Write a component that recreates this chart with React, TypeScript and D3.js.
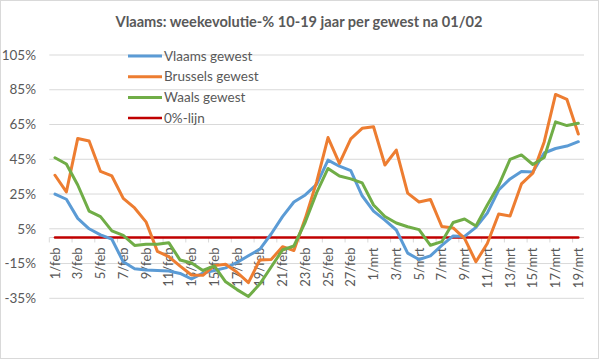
import React from 'react';
import * as d3 from 'd3';

const title = 'Vlaams: weekevolutie-% 10-19 jaar per gewest na 01/02';

const categories = [
  '1/feb', '2/feb', '3/feb', '4/feb', '5/feb', '6/feb', '7/feb', '8/feb', '9/feb', '10/feb',
  '11/feb', '12/feb', '13/feb', '14/feb', '15/feb', '16/feb', '17/feb', '18/feb', '19/feb', '20/feb',
  '21/feb', '22/feb', '23/feb', '24/feb', '25/feb', '26/feb', '27/feb', '28/feb',
  '1/mrt', '2/mrt', '3/mrt', '4/mrt', '5/mrt', '6/mrt', '7/mrt', '8/mrt', '9/mrt', '10/mrt',
  '11/mrt', '12/mrt', '13/mrt', '14/mrt', '15/mrt', '16/mrt', '17/mrt', '18/mrt', '19/mrt',
];

const tickLabels = [
  '1/feb', '3/feb', '5/feb', '7/feb', '9/feb', '11/feb', '13/feb', '15/feb', '17/feb', '19/feb',
  '21/feb', '23/feb', '25/feb', '27/feb', '1/mrt', '3/mrt', '5/mrt', '7/mrt', '9/mrt', '11/mrt',
  '13/mrt', '15/mrt', '17/mrt', '19/mrt',
];

const yTicks = [-35, -15, 5, 25, 45, 65, 85, 105];

const vlaams = [
  25, 22, 11, 5, 1.5, -1, -14, -18, -18.7, -19,
  -19.3, -20.7, -23.9, -20.5, -19, -17.5, -14.4, -10.5, -6.8, 2,
  12, 20.4, 24.5, 30.5, 44.5, 41, 38.5, 24,
  15.2, 10, 4.3, -9, -12.7, -10.6, -4.6, 0.9, 0.6, 5.8,
  14, 27.3, 33.7, 38, 37.7, 48.6, 51.2, 52.6, 55.1,
];

const brussels = [
  35.8, 26.2, 57, 55.5, 38, 35.4, 22.5, 17, 9, -8,
  -11, -16.5, -21.6, -21.8, -16.2, -15.4, -20, -26, -13, -12.7,
  -5.3, -7.5, 11, 32, 57.5, 42.6, 56.7, 62.8,
  63.7, 41.7, 50.3, 25.5, 20.4, 21.9, 6.3, 5.5, -0.5, -14,
  -3.5, 13.5, 12.4, 30.8, 37, 55, 82.3, 79.4, 59.5,
];

const waals = [
  45.9, 42.3, 30.2, 15.2, 12, 3.8, 1.2, -4.6, -3.9, -3.9,
  -3, -13, -14.7, -19, -16.4, -25.5, -30, -34, -26.8, -17,
  -7.2, -4.9, 8.9, 25.8, 39.7, 35.4, 33.7, 31.4,
  18.7, 12.1, 8.3, 6.2, 4.5, -4.5, -2.4, 8.6, 10.6, 6.6,
  18.7, 30, 44.9, 47.5, 42, 46, 66.5, 64.4, 65.7,
];

const nulLijn = [
  0, 0, 0, 0, 0, 0, 0, 0, 0, 0,
  0, 0, 0, 0, 0, 0, 0, 0, 0, 0,
  0, 0, 0, 0, 0, 0, 0, 0,
  0, 0, 0, 0, 0, 0, 0, 0, 0, 0,
  0, 0, 0, 0, 0, 0, 0, 0, 0,
];

const seriesNames = ['Vlaams gewest', 'Brussels gewest', 'Waals gewest', '0%-lijn'];
const seriesColors = ['#5B9BD5', '#ED7D31', '#70AD47', '#C00000'];

const W = 599;
const H = 359;
const FONT = 'Lato, "Open Sans", sans-serif';
const TEXT = '#595959';

export default function App() {
  const x = d3.scaleBand<string>().domain(categories).range([49.3, 584]).padding(0);
  const y = d3.scaleLinear().domain([-35, 105]).range([298.3, 55]);
  const bw = x.bandwidth();
  const cx = (c: string) => (x(c) as number) + bw / 2;

  const data = [vlaams, brussels, waals, nulLijn];
  const line = d3
    .line<number>()
    .x((_, i) => cx(categories[i]))
    .y((v) => y(v));

  const y0 = y(0);
  const tickPositions = categories
    .filter((_, i) => i % 2 === 0)
    .map((c) => x(c) as number);

  const drawOrder = [3, 0, 1, 2];

  return (
    <svg
      width={W}
      height={H}
      style={{ position: 'absolute', left: 0, top: 0, background: '#fff' }}
      fontFamily={FONT}
    >
      <rect x={0.5} y={0.5} width={W - 1} height={H - 1} fill="#fff" stroke="#D9D9D9" />
      <text x={299} y={27} textAnchor="middle" fontSize={14.6} fontWeight="bold" fill={TEXT}>
        {title}
      </text>

      {yTicks.map((t) => (
        <g key={t}>
          <line x1={49.3} x2={584} y1={y(t)} y2={y(t)} stroke="#D9D9D9" strokeWidth={1} />
          <text x={36} y={y(t)} dy="0.35em" textAnchor="end" fontSize={13.5} fill={TEXT}>
            {t}%
          </text>
        </g>
      ))}

      <line x1={49.3} x2={584} y1={y0} y2={y0} stroke="#D9D9D9" strokeWidth={1} />
      {tickPositions.map((tx, i) => (
        <line key={i} x1={tx} x2={tx} y1={y0} y2={y0 + 5} stroke="#D9D9D9" strokeWidth={1} />
      ))}
      {tickLabels.map((lab) => (
        <text
          key={lab}
          transform={`translate(${cx(lab)},${y0 + 10}) rotate(-90)`}
          dy="0.35em"
          textAnchor="end"
          fontSize={13}
          fill={TEXT}
        >
          {lab}
        </text>
      ))}

      {drawOrder.map((si) => (
        <path
          key={si}
          d={line(data[si]) as string}
          fill="none"
          stroke={seriesColors[si]}
          strokeWidth={si === 3 ? 2.5 : 3}
          strokeLinejoin="round"
          strokeLinecap="round"
        />
      ))}

      {seriesNames.map((name, i) => {
        const ly = 56 + i * 20.7;
        return (
          <g key={name}>
            <line x1={128} x2={162} y1={ly} y2={ly} stroke={seriesColors[i]} strokeWidth={i === 3 ? 2.5 : 3} />
            <text x={164} y={ly} dy="0.35em" fontSize={13.5} fill={TEXT}>
              {name}
            </text>
          </g>
        );
      })}
    </svg>
  );
}
